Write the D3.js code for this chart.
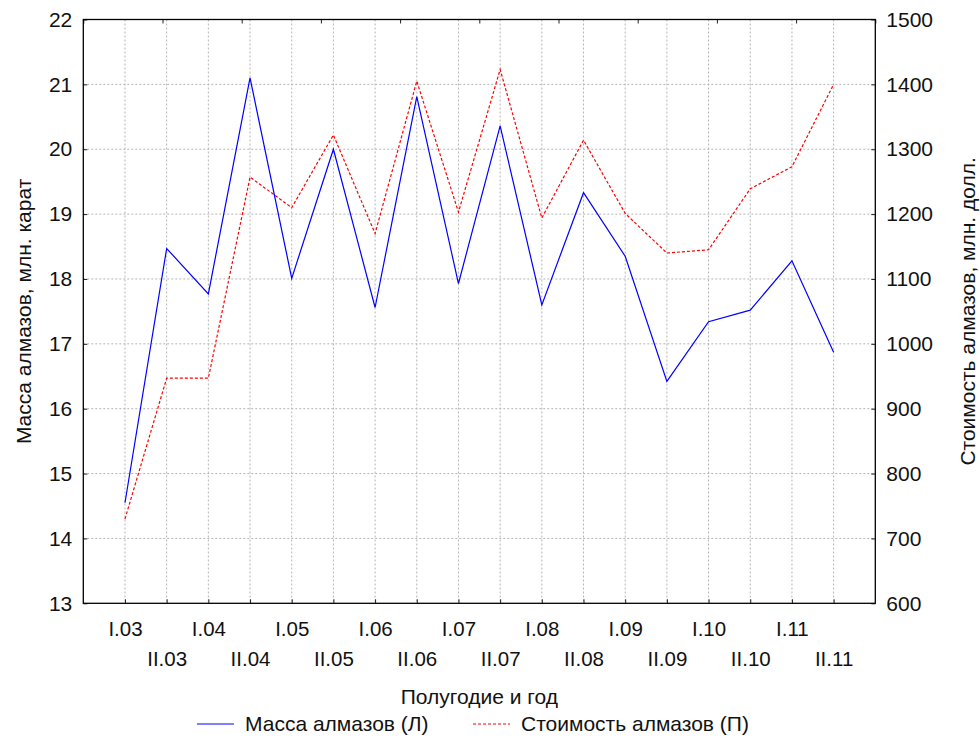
<!DOCTYPE html>
<html>
<head>
<meta charset="utf-8">
<script src="https://cdn.jsdelivr.net/npm/d3@7"></script>
<style>
    body { margin: 0; background: #fff; }
    svg { display: block; font-family: 'Liberation Sans', Arial, sans-serif; }
</style>
</head>
<body>
<div id="chart"></div>
<script>
// half-year labels, row 1 = first half, row 2 = second half
const periods = ['I.03', 'II.03', 'I.04', 'II.04', 'I.05', 'II.05', 'I.06', 'II.06', 'I.07',
    'II.07', 'I.08', 'II.08', 'I.09', 'II.09', 'I.10', 'II.10', 'I.11', 'II.11'];

// mass, mln carat (left axis)
const mass = [14.55, 18.47, 17.77, 21.10, 18.01, 20.00, 17.56, 20.81, 17.93,
    20.36, 17.60, 19.33, 18.35, 16.42, 17.34, 17.52, 18.28, 16.87];

// value, mln USD (right axis)
const value = [730, 947, 947, 1257, 1210, 1322, 1170, 1405, 1203,
    1423, 1194, 1314, 1201, 1140, 1145, 1239, 1273, 1400];

const leftTicks = [13, 14, 15, 16, 17, 18, 19, 20, 21, 22];
const rightTicks = [600, 700, 800, 900, 1000, 1100, 1200, 1300, 1400, 1500];

const width = 980;
const height = 738;
const margin = {top: 19.5, right: 104.7, bottom: 134.7, left: 83.3};

const blue = '#0000ff';
const red = '#ff0000';
const gridColour = '#b4b4b4';
const font = "'Liberation Sans', Arial, sans-serif";

const svg = d3.select('#chart')
    .append('svg')
        .attr('width', width)
        .attr('height', height);

// SCALES
// categories sit at 1..18 on a 0..19 axis
const x = d3.scaleLinear()
    .domain([0, periods.length + 1])
    .range([margin.left, width - margin.right]);
const yL = d3.scaleLinear()
    .domain([13, 22])
    .range([height - margin.bottom, margin.top]);
const yR = d3.scaleLinear()
    .domain([600, 1500])
    .range([height - margin.bottom, margin.top]);

const px = (d, i) => x(i + 1);

// GRID
const grid = svg.append('g')
    .attr('stroke', gridColour)
    .attr('stroke-width', 1)
    .attr('stroke-dasharray', '2 2');
grid.selectAll('line.v')
    .data(periods)
    .join('line')
        .attr('class', 'v')
        .attr('x1', px).attr('x2', px)
        .attr('y1', margin.top).attr('y2', height - margin.bottom);
grid.selectAll('line.h')
    .data(leftTicks.slice(1, -1))
    .join('line')
        .attr('class', 'h')
        .attr('x1', margin.left).attr('x2', width - margin.right)
        .attr('y1', d => yL(d)).attr('y2', d => yL(d));

// AXES
const tickStyle = size => g => g
    .call(g => g.select('.domain').remove())
    .call(g => g.selectAll('.tick text')
        .style('font-size', size + 'px')
        .style('font-family', font)
        .attr('fill', '#111'))
    .call(g => g.selectAll('.tick line').attr('stroke', '#222'));

svg.append('g')
    .attr('transform', `translate(${margin.left},0)`)
    .call(d3.axisLeft(yL).tickValues(leftTicks).tickSize(-4).tickPadding(11))
    .call(tickStyle(21));

svg.append('g')
    .attr('transform', `translate(${width - margin.right},0)`)
    .call(d3.axisRight(yR).tickValues(rightTicks).tickSize(-4).tickPadding(11)
        .tickFormat(d3.format('d')))
    .call(tickStyle(21));

// top axis: ten even ticks, no labels
svg.append('g')
    .attr('transform', `translate(0,${margin.top})`)
    .call(d3.axisTop(x).tickValues(d3.range(0, 10.5, 1).map(k => k * (periods.length + 1) / 10))
        .tickSize(-4).tickFormat(''))
    .call(tickStyle(21));

// bottom axis: two rows of labels
const xb = svg.append('g')
    .attr('transform', `translate(0,${height - margin.bottom})`)
    .call(d3.axisBottom(x).tickValues(d3.range(1, periods.length + 1))
        .tickSize(-4)
        .tickFormat(d => periods[d - 1]))
    .call(tickStyle(20.5));
xb.selectAll('.tick text')
    .attr('y', (d, i) => i % 2 === 0 ? 33 : 63)
    .attr('dy', 0);

// frame
svg.append('rect')
    .attr('x', margin.left)
    .attr('y', margin.top)
    .attr('width', width - margin.right - margin.left)
    .attr('height', height - margin.bottom - margin.top)
    .attr('fill', 'none')
    .attr('stroke', '#000')
    .attr('stroke-width', 1.3);

// TITLES
const midY = (margin.top + height - margin.bottom) / 2;
svg.append('text')
    .attr('transform', `translate(31,${midY}) rotate(-90)`)
    .attr('text-anchor', 'middle')
    .style('font-size', '21px')
    .attr('fill', '#111')
    .text('Масса алмазов, млн. карат');

svg.append('text')
    .attr('transform', `translate(975,${midY}) rotate(-90)`)
    .attr('text-anchor', 'middle')
    .style('font-size', '21px')
    .attr('fill', '#111')
    .text('Стоимость алмазов, млн. долл.');

svg.append('text')
    .attr('x', (margin.left + width - margin.right) / 2)
    .attr('y', 704)
    .attr('text-anchor', 'middle')
    .style('font-size', '21px')
    .attr('fill', '#111')
    .text('Полугодие и год');

// LINES
const lineL = d3.line().x(px).y(d => yL(d));
const lineR = d3.line().x(px).y(d => yR(d));

svg.append('path')
    .datum(value)
        .attr('fill', 'none')
        .attr('stroke', red)
        .attr('stroke-width', 1.2)
        .attr('stroke-dasharray', '3 2')
        .attr('d', lineR);

svg.append('path')
    .datum(mass)
        .attr('fill', 'none')
        .attr('stroke', blue)
        .attr('stroke-width', 1.2)
        .attr('d', lineL);

// LEGEND
const legend = svg.append('g').attr('transform', 'translate(0,724)');
const items = [
    {label: 'Масса алмазов (Л)', colour: blue, dash: null, x0: 197},
    {label: 'Стоимость алмазов (П)', colour: red, dash: '3 2', x0: 473}
];
items.forEach(it => {
    legend.append('line')
        .attr('x1', it.x0).attr('x2', it.x0 + 37)
        .attr('y1', 0).attr('y2', 0)
        .attr('stroke', it.colour)
        .attr('stroke-width', 1.2)
        .attr('stroke-dasharray', it.dash);
    legend.append('text')
        .attr('x', it.x0 + 48)
        .attr('y', 0)
        .attr('dy', '0.35em')
        .style('font-size', '21px')
        .attr('fill', '#111')
        .text(it.label);
});
</script>
</body>
</html>
